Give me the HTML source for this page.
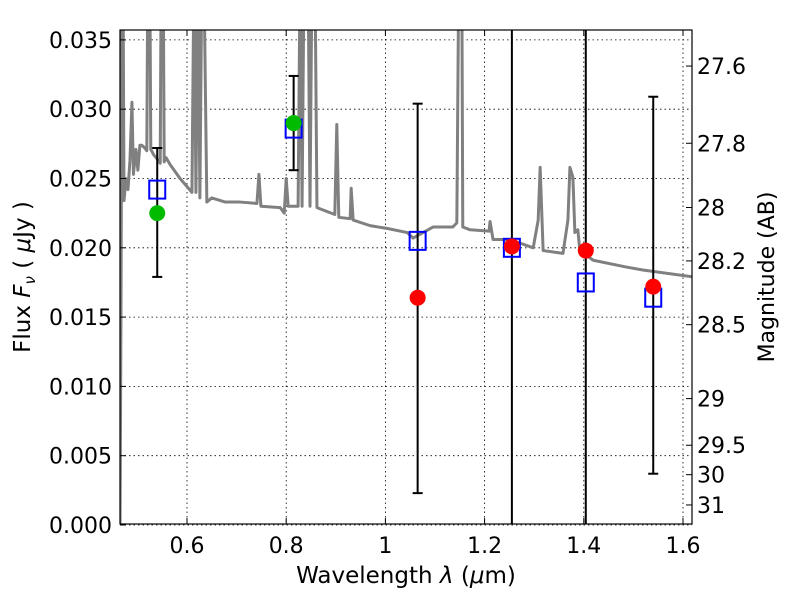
<!DOCTYPE html>
<html><head><meta charset="utf-8"><style>
html,body{margin:0;background:#fff;overflow:hidden;width:800px;height:600px}
svg{display:block;font-family:"DejaVu Sans","Liberation Sans",sans-serif}
</style></head><body>
<svg id="chart" width="800" height="600" viewBox="0 0 800 600">
<defs><clipPath id="clip"><rect x="120" y="30" width="572" height="494"/></clipPath></defs>
<g id="grid"></g>
<g id="spec" clip-path="url(#clip)"></g>
<g id="marks" clip-path="url(#clip)"></g>
<rect x="120" y="30" width="572" height="494" fill="none" stroke="#000" stroke-width="1.2"/>
<g id="axes"></g>
<text x="406" y="583" font-size="23" text-anchor="middle">Wavelength  <tspan font-style="italic">λ</tspan> (<tspan font-style="italic">μ</tspan>m)</text>
<text transform="translate(30,277) rotate(-90)" font-size="23" text-anchor="middle">Flux  <tspan font-style="italic">F<tspan font-size="15" dy="5">ν</tspan></tspan><tspan dy="-5">  ( </tspan><tspan font-style="italic">μ</tspan>Jy )</text>
<text transform="translate(774,277) rotate(-90)" font-size="22" text-anchor="middle">Magnitude (AB)</text>
</svg>
<script>
const xTicks=[0.6,0.8,1.0,1.2,1.4,1.6];
const xTickLabels=["0.6","0.8","1","1.2","1.4","1.6"];
const yTicks=[0,0.005,0.01,0.015,0.02,0.025,0.03,0.035];
const yTickLabels=["0.000","0.005","0.010","0.015","0.020","0.025","0.030","0.035"];
const magTicks=[27.6,27.8,28,28.2,28.5,29,29.5,30,31];
const magTickLabels=["27.6","27.8","28","28.2","28.5","29","29.5","30","31"];
const specWave=[0.465,0.467,0.469,0.471,0.473,0.477,0.481,0.485,0.489,0.492,0.497,0.501,0.505,0.509,0.515,0.519,0.521,0.525,0.527,0.533,0.540,0.546,0.548,0.552,0.554,0.558,0.566,0.586,0.610,0.614,0.618,0.622,0.626,0.630,0.634,0.640,0.650,0.677,0.707,0.741,0.745,0.749,0.788,0.796,0.800,0.804,0.824,0.828,0.832,0.836,0.844,0.848,0.852,0.858,0.862,0.898,0.902,0.906,0.929,0.931,0.935,0.969,1.003,1.044,1.056,1.096,1.136,1.144,1.148,1.154,1.156,1.171,1.209,1.211,1.217,1.251,1.298,1.308,1.312,1.318,1.358,1.368,1.372,1.378,1.382,1.388,1.392,1.419,1.487,1.519,1.620];
const specFlux=[0.0001,0.0162,0.04,0.04,0.0234,0.0250,0.0242,0.0263,0.0305,0.0253,0.0271,0.0256,0.0274,0.0274,0.0272,0.0270,0.04,0.04,0.0271,0.0267,0.0264,0.0261,0.04,0.04,0.0262,0.0265,0.0260,0.0250,0.0240,0.04,0.0240,0.04,0.0236,0.04,0.04,0.0233,0.0236,0.0233,0.0233,0.0232,0.0253,0.0230,0.0229,0.0225,0.0250,0.0230,0.0230,0.04,0.0230,0.04,0.04,0.0230,0.04,0.04,0.0229,0.0224,0.0289,0.0222,0.0221,0.0243,0.0220,0.0216,0.0214,0.0211,0.0207,0.0215,0.0215,0.0218,0.04,0.04,0.0215,0.0213,0.0212,0.0219,0.0206,0.0206,0.0200,0.0220,0.0258,0.0198,0.0196,0.0220,0.0258,0.0251,0.0211,0.0213,0.0198,0.0191,0.0186,0.0184,0.0179];
const modelWave=[0.54,0.815,1.065,1.255,1.404,1.54];
const modelFlux=[0.0242,0.0286,0.0205,0.0200,0.0175,0.0164];
const greenWave=[0.54,0.815];
const greenFlux=[0.0225,0.0290];
const redWave=[1.065,1.255,1.404,1.54];
const redFlux=[0.0164,0.0201,0.0198,0.0172];
const errWave=[0.54,0.815,1.065,1.255,1.404,1.54];
const errLow=[0.0179,0.0256,0.0023,-0.01,-0.01,0.0037];
const errHigh=[0.0272,0.0324,0.0304,0.05,0.05,0.0309];

const NS="http://www.w3.org/2000/svg";
const X=v=>187+(v-0.6)*496;
const Y=v=>525-v*13860;
const M=m=>Y(Math.pow(10,(23.9-m)/2.5));
function mk(parent,tag,attrs){const e=document.createElementNS(NS,tag);for(const k in attrs)e.setAttribute(k,attrs[k]);document.getElementById(parent).appendChild(e);return e;}

xTicks.forEach((t,i)=>{
  const g=mk('grid','line',{x1:X(t),x2:X(t),y1:30,y2:524,stroke:'#000','stroke-width':0.8,'stroke-dasharray':'1.5,3'});
  
  
  mk('axes','line',{x1:X(t),x2:X(t),y1:524,y2:518,stroke:'#000'});
  mk('axes','line',{x1:X(t),x2:X(t),y1:30,y2:36,stroke:'#000'});
  const l=mk('axes','text',{x:X(t),y:553,'font-size':22,'text-anchor':'middle'});
  l.textContent=xTickLabels[i];
  
  
});
yTicks.forEach((t,i)=>{
  const g=mk('grid','line',{x1:120,x2:692,y1:Y(t),y2:Y(t),stroke:'#000','stroke-width':0.8,'stroke-dasharray':'1.5,3'});
  
  
  mk('axes','line',{x1:120,x2:126,y1:Y(t),y2:Y(t),stroke:'#000'});
  const l=mk('axes','text',{x:112,y:Y(t)+8,'font-size':22,'text-anchor':'end'});
  l.textContent=yTickLabels[i];
  
  
});
magTicks.forEach((t,i)=>{
  mk('axes','line',{x1:686,x2:692,y1:M(t),y2:M(t),stroke:'#000'});
  const l=mk('axes','text',{x:697,y:M(t)+8,'font-size':22,'text-anchor':'start'});
  l.textContent=magTickLabels[i];
  
  
});
const sp=mk('spec','polyline',{points:specWave.map((w,i)=>X(w)+','+Y(specFlux[i])).join(' '),fill:'none',stroke:'#808080','stroke-width':3,'stroke-linejoin':'round'});


errWave.forEach((w,i)=>{
  const e=mk('marks','line',{x1:X(w),x2:X(w),y1:Y(errLow[i]),y2:Y(errHigh[i]),stroke:'#000','stroke-width':2});
  
  
  [errLow[i],errHigh[i]].forEach(v=>mk('marks','line',{x1:X(w)-5,x2:X(w)+5,y1:Y(v),y2:Y(v),stroke:'#000','stroke-width':2}));
});
modelWave.forEach((w,i)=>{
  const r=mk('marks','rect',{x:X(w)-8,y:Y(modelFlux[i])-9,width:16,height:18,fill:'none',stroke:'#0000ff','stroke-width':2});
  
  
});
greenWave.forEach((w,i)=>{
  const c=mk('marks','circle',{cx:X(w),cy:Y(greenFlux[i]),r:8,fill:'#00bb00'});
  
  
});
redWave.forEach((w,i)=>{
  const c=mk('marks','circle',{cx:X(w),cy:Y(redFlux[i]),r:8,fill:'#ff0000'});
  
  
});
</script>
</body></html>
